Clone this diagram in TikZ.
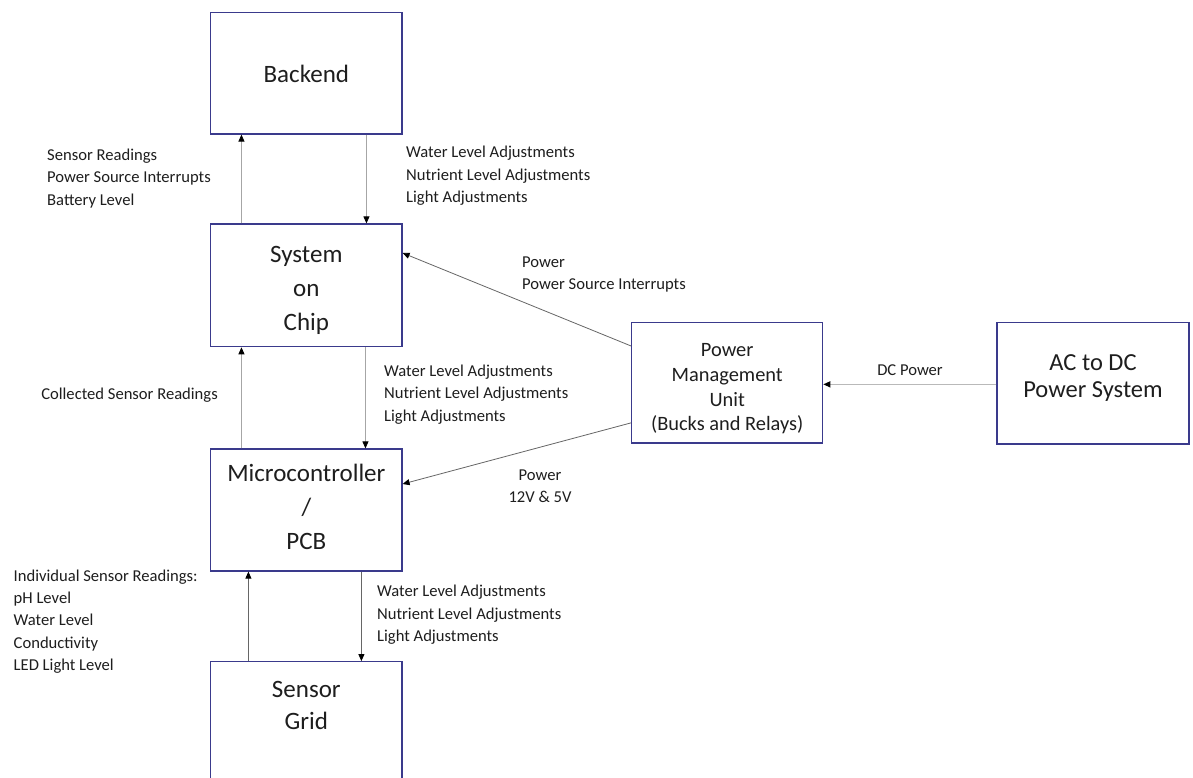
\documentclass[tikz,border=0pt]{standalone}
\usepackage{fontspec}
\setmainfont{Carlito}
\usetikzlibrary{arrows.meta}
\definecolor{boxblue}{RGB}{58,58,140}
\definecolor{inkgray}{RGB}{30,30,30}
\tikzset{
  block/.style={draw=boxblue, line width=1.2pt, fill=white, inner sep=0pt,
    minimum width=191.3pt},
  blocktext/.style={align=center, text=inkgray, inner sep=0pt},
  bigtext/.style={blocktext, font={\fontsize{25}{34}\selectfont}},
  pmutext/.style={blocktext, font={\fontsize{20.4}{24.7}\selectfont}},
  actext/.style={blocktext, font={\fontsize{24.5}{27}\selectfont}},
  note/.style={font={\fontsize{16.6}{22.4}\selectfont}, text=inkgray, inner sep=0pt},
  arr/.style={-{Triangle[length=7pt,width=6pt,color=black]}, line width=0.8pt, draw=gray!80!black},
  lightarr/.style={arr, draw=gray!55, line width=1.2pt},
}
\begin{document}
\begin{tikzpicture}[x=1pt,y=-1pt]
  \clip (0,0) rectangle (1193,778);
  \fill[white] (0,0) rectangle (1193,778);

  % blocks of the system
  \node[block, minimum height=121.3pt] (backend) at (306.35,73.35) {};
  \node[block, minimum height=122.7pt] (soc) at (306.35,285.35) {};
  \node[block, minimum height=122pt] (micro) at (306.35,510) {};
  \node[block, minimum height=200pt] (sensor) at (306.35,761.7) {};
  \node[block, minimum width=191pt, minimum height=120.3pt] (pmu) at (727.2,382.85) {};
  \node[block, minimum width=192pt, minimum height=121.3pt] (ac) at (1093,383.35) {};

  % block titles
  \node[bigtext] (backendlabel) at (306.35,74) {Backend};
  \node[bigtext] (soclabel) at (306.35,290) {System\\on\\Chip};
  \node[bigtext] (microlabel) at (306.35,507) {Microcontroller\\/\\PCB};
  \node[bigtext, font={\fontsize{25}{32}\selectfont}] (sensorlabel) at (306.35,705) {Sensor\\Grid};
  \node[pmutext] (pmulabel) at (727.2,389) {Power\\Management\\Unit\\(Bucks and Relays)};
  \node[actext] (aclabel) at (1093,378.5) {AC to DC\\Power System};

  % data links between the stacked blocks
  \draw[arr, draw=gray!70] ([xshift=31.35pt]soc.north west) -- ([xshift=31.35pt]backend.south west);
  \draw[arr, draw=gray!70] ([xshift=156.35pt]backend.south west) -- ([xshift=156.35pt]soc.north west);
  \draw[arr, draw=gray!70] ([xshift=31.35pt]micro.north west) -- ([xshift=31.35pt]soc.south west);
  \draw[arr, draw=gray!70] ([xshift=155.35pt]soc.south west) -- ([xshift=155.35pt]micro.north west);
  \draw[arr] ([xshift=38.3pt]sensor.north west) -- ([xshift=38.3pt]micro.south west);
  \draw[arr] ([xshift=151.3pt]micro.south west) -- ([xshift=151.3pt]sensor.north west);

  % power links
  \draw[arr] ([yshift=36.85pt]pmu.west) -- ([yshift=32.35pt]soc.east);
  \draw[arr] ([yshift=-40pt]pmu.west) -- ([yshift=26pt]micro.east);
  \draw[lightarr] ([yshift=-1pt]ac.west) -- ([yshift=-1pt]ac.west -| pmu.east);

  % link labels
  \node[note, align=left, anchor=west] (upnote) at (47,178.5)
    {Sensor Readings\\Power Source Interrupts\\Battery Level};
  \node[note, align=left, anchor=west] (downnote) at (406,176)
    {Water Level Adjustments\\Nutrient Level Adjustments\\Light Adjustments};
  \node[note, align=left, anchor=west] (socpower) at (522,274.5)
    {Power\\Power Source Interrupts};
  \node[note, align=left, anchor=west] (middownnote) at (384,394.5)
    {Water Level Adjustments\\Nutrient Level Adjustments\\Light Adjustments};
  \node[note, anchor=east] (collected) at (218,395) {Collected Sensor Readings};
  \node[note] (dcpower) at (910,370) {DC Power};
  \node[note, align=center] (micropower) at (540,486.5) {Power\\12V \& 5V};
  \node[note, align=left, anchor=west] (lowdownnote) at (377,615)
    {Water Level Adjustments\\Nutrient Level Adjustments\\Light Adjustments};
  \node[note, align=left, anchor=west] (sensornote) at (13.5,621.5)
    {Individual Sensor Readings:\\pH Level\\Water Level\\Conductivity\\LED Light Level};
\end{tikzpicture}
\end{document}
